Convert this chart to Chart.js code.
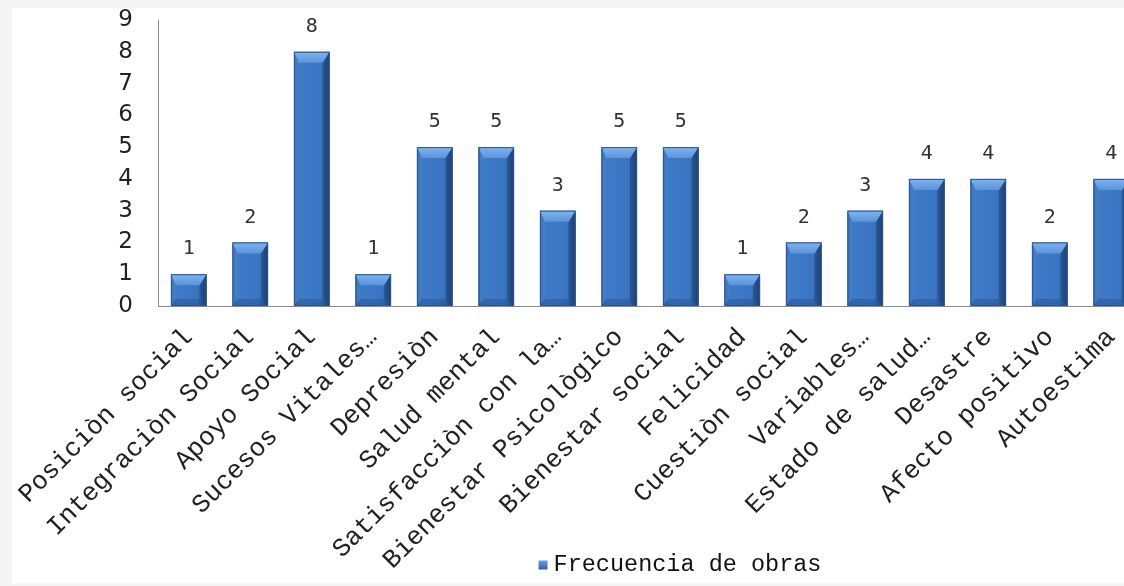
<!DOCTYPE html>
<html>
<head>
<meta charset="utf-8">
<script src="https://cdn.jsdelivr.net/npm/chart.js@4/dist/chart.umd.min.js"></script>
<style>
  html, body { margin: 0; padding: 0; width: 1124px; height: 586px; overflow: hidden; background: #f5f5f5; }
  #wrap { position: absolute; left: 12px; top: 8px; width: 1112px; height: 575px; background: #fff; overflow: hidden; }
  canvas { position: absolute; left: 0; top: 0; }
</style>
</head>
<body>
<div id="wrap"><canvas id="c" width="1336" height="575"></canvas></div>
<script>
// data
const categories = [
  'Posiciòn social', 'Integraciòn Social', 'Apoyo Social', 'Sucesos Vitales…',
  'Depresiòn', 'Salud mental', 'Satisfacciòn con la…', 'Bienestar Psicològico',
  'Bienestar social', 'Felicidad', 'Cuestiòn social', 'Variables…',
  'Estado de salud…', 'Desastre', 'Afecto positivo', 'Autoestima'
];
const frecuencia = [1, 2, 8, 1, 5, 5, 3, 5, 5, 1, 2, 3, 4, 4, 2, 4];
const seriesName = 'Frecuencia de obras';
const yMin = 0;
const yMax = 9;

const monoSerif = '"Courier New", "Nimbus Mono PS", "Nimbus Mono L", FreeMono, Courier, "Liberation Mono", monospace';

// bevelled bars + value labels drawn on top of the library's bar elements
const barLook = {
  id: 'barLook',
  afterDatasetsDraw(chart) {
    const ctx = chart.ctx;
    const meta = chart.getDatasetMeta(0);
    ctx.save();
    meta.data.forEach((bar, i) => {
      const l = bar.x - bar.width / 2, r = bar.x + bar.width / 2;
      const t = bar.y, b = bar.base;
      const e = 7;
      // body
      let g = ctx.createLinearGradient(l, 0, r, 0);
      g.addColorStop(0, '#3169b1');
      g.addColorStop(0.18, '#3d7ac8');
      g.addColorStop(0.75, '#3a75c2');
      g.addColorStop(1, '#21497f');
      ctx.fillStyle = g;
      ctx.fillRect(l, t, r - l, b - t);
      // right bevel
      ctx.fillStyle = 'rgba(20,50,95,0.35)';
      ctx.beginPath();
      ctx.moveTo(r, t); ctx.lineTo(r, b); ctx.lineTo(r - e, b - e); ctx.lineTo(r - e, t + e + 4); ctx.closePath();
      ctx.fill();
      // left bevel
      ctx.fillStyle = 'rgba(120,170,230,0.18)';
      ctx.beginPath();
      ctx.moveTo(l, t); ctx.lineTo(l, b); ctx.lineTo(l + e - 2, b - e); ctx.lineTo(l + e - 2, t + e + 4); ctx.closePath();
      ctx.fill();
      // bottom bevel
      ctx.fillStyle = 'rgba(20,50,95,0.25)';
      ctx.beginPath();
      ctx.moveTo(l, b); ctx.lineTo(r, b); ctx.lineTo(r - e, b - e); ctx.lineTo(l + e - 2, b - e); ctx.closePath();
      ctx.fill();
      // top bevel
      g = ctx.createLinearGradient(0, t, 0, t + e + 4);
      g.addColorStop(0, '#80b4f0');
      g.addColorStop(1, '#5c93da');
      ctx.fillStyle = g;
      ctx.beginPath();
      ctx.moveTo(l, t); ctx.lineTo(r, t); ctx.lineTo(r - e, t + e + 4); ctx.lineTo(l + e - 2, t + e + 4); ctx.closePath();
      ctx.fill();
      // outline
      ctx.strokeStyle = '#2a5591';
      ctx.lineWidth = 1;
      ctx.strokeRect(l + 0.5, t + 0.5, r - l - 1, b - t - 1);

      ctx.font = '20px "DejaVu Sans Mono"';
      ctx.fillStyle = '#333';
      ctx.textAlign = 'center';
      ctx.textBaseline = 'middle';
      ctx.fillText(String(frecuencia[i]), bar.x, t - 25);
    });
    ctx.restore();
  }
};

// legend drawn inside the bottom axis band (Excel lets it overlap the label area)
const bottomLegend = {
  id: 'bottomLegend',
  afterDraw(chart) {
    const ctx = chart.ctx;
    const ds = chart.data.datasets[0];
    ctx.save();
    ctx.font = '23.5px ' + monoSerif;
    const tw = ctx.measureText(ds.label).width;
    const box = 9, gap = 6;
    const x0 = chart.width / 2 - (box + gap + tw) / 2;
    const yc = 557;
    const g = ctx.createLinearGradient(0, yc - box / 2, 0, yc + box / 2);
    g.addColorStop(0, '#6a9fe2');
    g.addColorStop(1, '#2d5fa3');
    ctx.fillStyle = g;
    ctx.fillRect(x0, yc - box / 2, box, box);
    ctx.fillStyle = '#111';
    ctx.textAlign = 'left';
    ctx.textBaseline = 'middle';
    ctx.fillText(ds.label, x0 + box + gap, yc);
    ctx.restore();
  }
};

new Chart(document.getElementById('c'), {
  type: 'bar',
  data: {
    labels: categories,
    datasets: [{
      label: seriesName,
      data: frecuencia,
      backgroundColor: '#3c78c5',
      borderColor: '#2a5591',
      borderWidth: 1,
      barPercentage: 0.58,
      categoryPercentage: 1
    }]
  },
  options: {
    responsive: false,
    animation: false,
    devicePixelRatio: 1,
    layout: { padding: { top: 12, left: 0, right: 0, bottom: 0 } },
    plugins: {
      legend: { display: false },
      tooltip: { enabled: false }
    },
    scales: {
      x: {
        ticks: {
          autoSkip: false,
          maxRotation: 45,
          minRotation: 45,
          font: { family: monoSerif, size: 26 },
          color: '#222',
          padding: 16
        },
        grid: { display: false, drawTicks: false },
        border: { display: true, color: '#8a8a8a' },
        afterFit(s) { s.height = 277; s.paddingLeft = 0; s.paddingRight = 0; }
      },
      y: {
        min: yMin,
        max: yMax,
        ticks: {
          stepSize: 1,
          font: { family: 'DejaVu Sans', size: 23 },
          color: '#222',
          padding: 25
        },
        grid: { display: false, drawTicks: false },
        border: { display: true, color: '#8a8a8a' },
        afterFit(s) { s.width = 146; s.paddingTop = 0; s.paddingBottom = 0; }
      },
      yRight: {
        position: 'right',
        ticks: { display: false },
        grid: { display: false, drawTicks: false },
        border: { display: false },
        afterFit(s) { s.width = 206; s.paddingTop = 0; s.paddingBottom = 0; }
      }
    }
  },
  plugins: [barLook, bottomLegend]
});
</script>
</body>
</html>
